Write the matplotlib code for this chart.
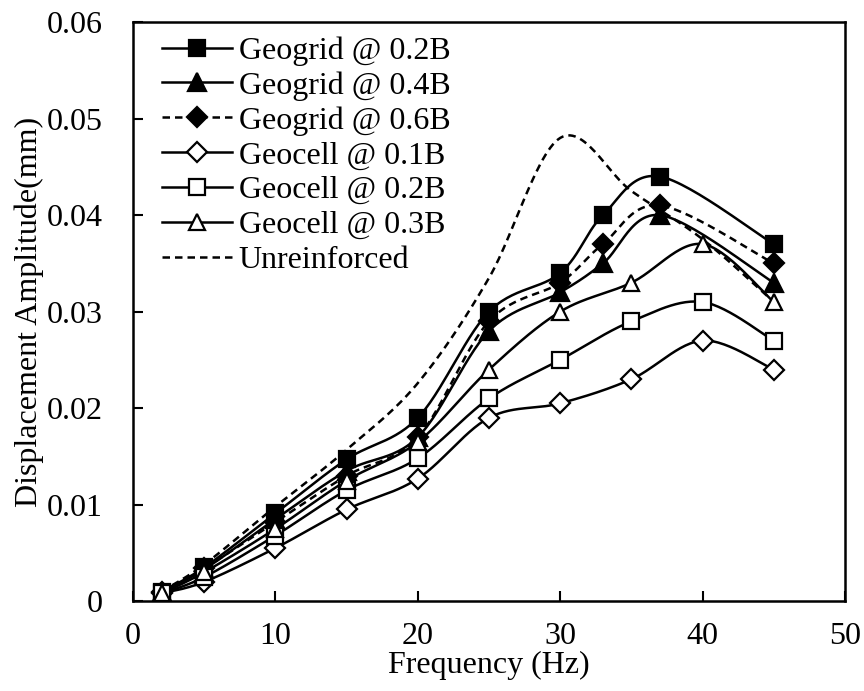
import numpy as np
import matplotlib
matplotlib.use("Agg")
import matplotlib.pyplot as plt
from matplotlib.lines import Line2D
from matplotlib.ticker import FuncFormatter

plt.rcParams['font.family'] = ['Liberation Serif', 'DejaVu Serif']

# frequencies (Hz)
f_grid = [2, 5, 10, 15, 20, 25, 30, 33, 37, 45]
f_cell = [2, 5, 10, 15, 20, 25, 30, 35, 40, 45]

# displacement amplitude (mm)
geogrid_02 = [0.001, 0.0035, 0.0091, 0.0147, 0.019, 0.030, 0.034, 0.040, 0.044, 0.037]
geogrid_04 = [0.001, 0.0033, 0.0085, 0.0135, 0.017, 0.028, 0.032, 0.035, 0.040, 0.033]
geogrid_06 = [0.001, 0.0034, 0.0082, 0.0130, 0.017, 0.029, 0.033, 0.037, 0.041, 0.035]
geocell_01 = [0.0008, 0.002, 0.0055, 0.0095, 0.0127, 0.019, 0.0205, 0.023, 0.027, 0.024]
geocell_02 = [0.0008, 0.0025, 0.0068, 0.0115, 0.0148, 0.021, 0.025, 0.029, 0.031, 0.027]
geocell_03 = [0.0008, 0.003, 0.0075, 0.0125, 0.0165, 0.024, 0.030, 0.033, 0.037, 0.031]
unreinforced = [0.001, 0.0038, 0.0098, 0.0157, 0.0226, 0.0335, 0.048, 0.0425, 0.0375, 0.031]


def smooth(x, y, n=30):
    # Excel-like smoothed line: cubic Bezier through the points
    x = np.asarray(x, float)
    y = np.asarray(y, float)
    P = np.column_stack([x, y])
    out = [P[0]]
    t = np.linspace(0, 1, n)[1:, None]
    for i in range(len(P) - 1):
        p0 = P[i]
        p3 = P[i + 1]
        prev = P[i - 1] if i > 0 else P[i]
        nxt = P[i + 2] if i + 2 < len(P) else P[i + 1]
        p1 = p0 + (p3 - prev) / 6
        p2 = p3 - (nxt - p0) / 6
        seg = ((1 - t) ** 3) * p0 + 3 * ((1 - t) ** 2) * t * p1 + 3 * (1 - t) * t ** 2 * p2 + t ** 3 * p3
        out.extend(seg)
    out = np.array(out)
    return out[:, 0], out[:, 1]


fig = plt.figure(figsize=(8.64, 6.91), dpi=100)
ax = fig.add_axes([0.154, 0.130, 0.824, 0.838])

lw = 1.8
mew = 1.6
dash = (0, (3, 2))
fs = 23

series = [
    (f_grid, geogrid_02, 'Geogrid @ 0.2B', 's', 'black', '-', 12),
    (f_grid, geogrid_04, 'Geogrid @ 0.4B', '^', 'black', '-', 13),
    (f_grid, geogrid_06, 'Geogrid @ 0.6B', 'D', 'black', dash, 10),
    (f_cell, geocell_01, 'Geocell @ 0.1B', 'D', 'white', '-', 10),
    (f_cell, geocell_02, 'Geocell @ 0.2B', 's', 'white', '-', 11),
    (f_cell, geocell_03, 'Geocell @ 0.3B', '^', 'white', '-', 12),
]

# unreinforced dashed curve, no markers
ux, uy = smooth(f_cell, unreinforced)
ax.plot(ux, uy, color='black', lw=lw, ls=dash, zorder=2)

handles = []
for x, y, label, mk, fc, ls, ms in series:
    sx, sy = smooth(x, y)
    ax.plot(sx, sy, color='black', lw=lw, ls=ls, zorder=3)
    ax.plot(x, y, ls='none', marker=mk, ms=ms, mfc=fc, mec='black', mew=mew, zorder=4)
    handles.append(Line2D([], [], color='black', lw=lw, ls=ls, marker=mk, ms=ms,
                          mfc=fc, mec='black', mew=mew, label=label))
handles.append(Line2D([], [], color='black', lw=lw, ls=dash, label='Unreinforced'))

ax.set_xlim(0, 50)
ax.set_ylim(0, 0.06)
ax.set_xticks(np.arange(0, 51, 10))
ax.set_yticks(np.arange(0, 0.061, 0.01))
ax.yaxis.set_major_formatter(FuncFormatter(lambda v, p: '%g' % round(v, 3)))
ax.tick_params(direction='in', length=7, width=1.5, labelsize=fs)
ax.tick_params(axis='x', pad=15)
ax.tick_params(axis='y', pad=22)
for s in ax.spines.values():
    s.set_linewidth(1.8)

ax.set_xlabel('Frequency (Hz)', fontsize=fs, labelpad=0)
ax.set_ylabel('Displacement Amplitude(mm)', fontsize=fs, labelpad=2)

ax.legend(handles=handles, loc='upper left', bbox_to_anchor=(0.025, 0.995), frameon=False,
          fontsize=fs, handlelength=2.2, handletextpad=0.2, labelspacing=0.17,
          borderaxespad=0.15, borderpad=0.2)

fig.savefig('out.png', dpi=100)
